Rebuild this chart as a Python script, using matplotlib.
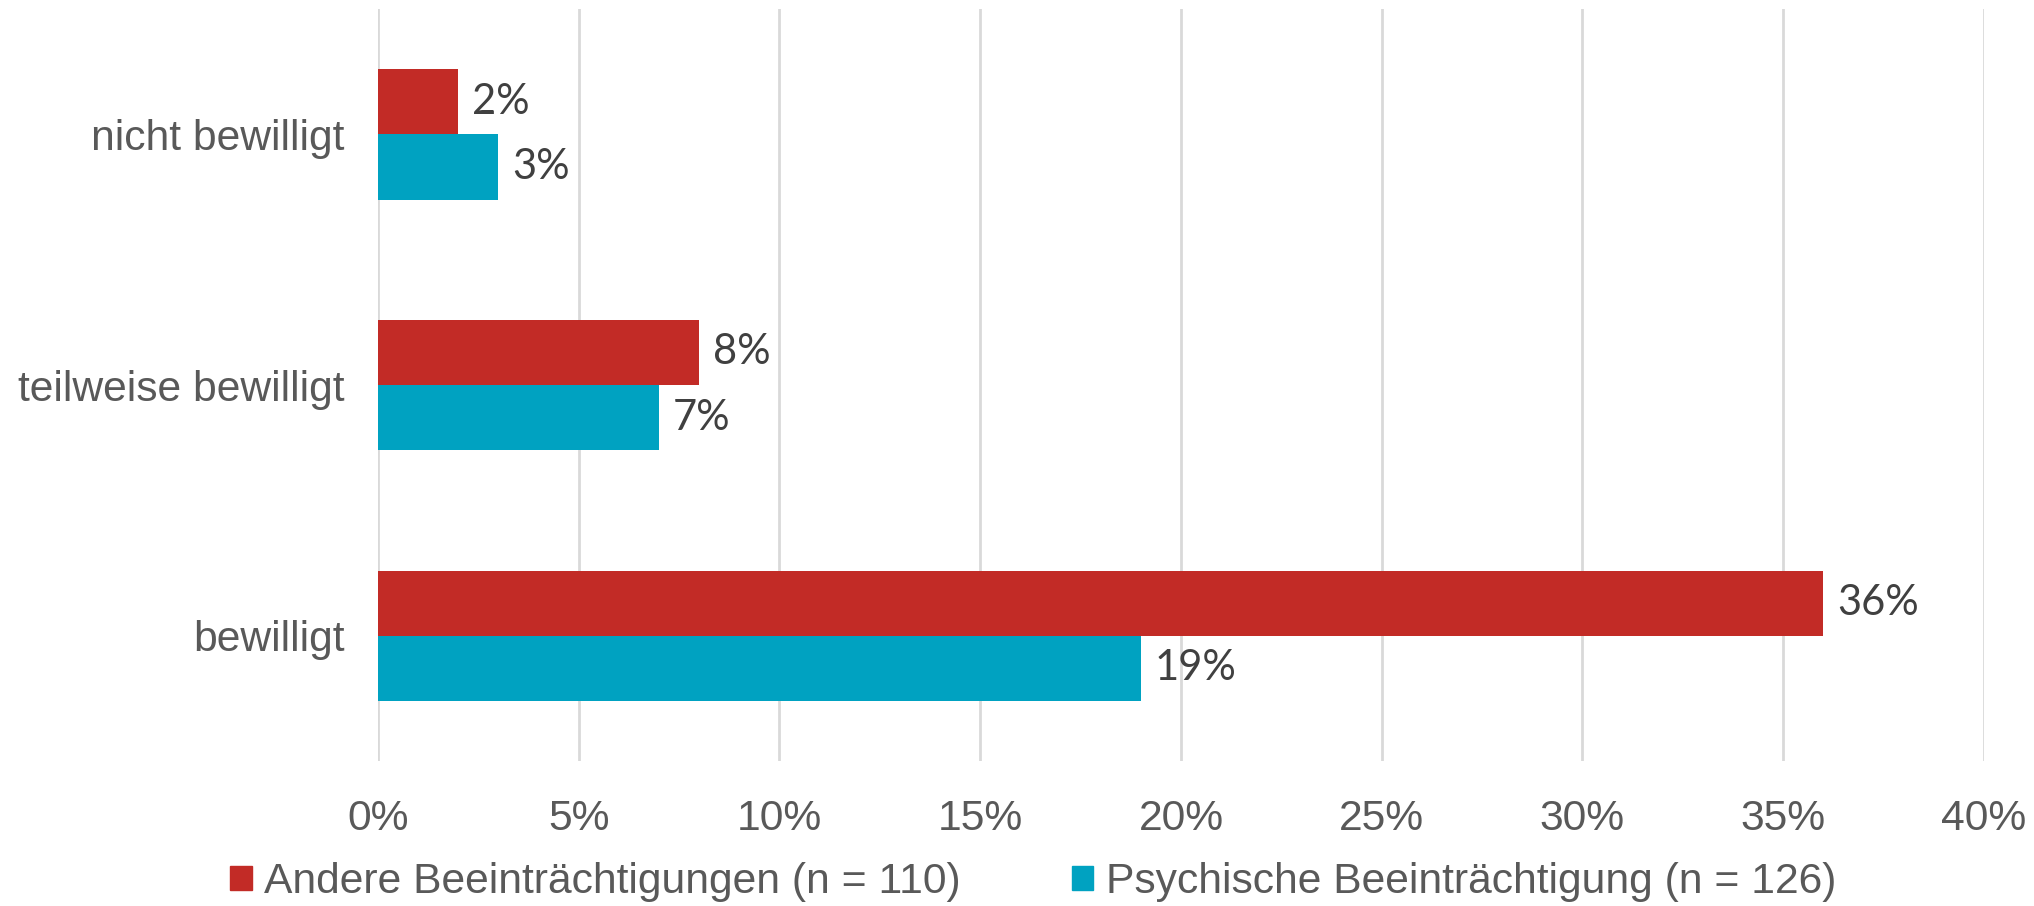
import matplotlib
matplotlib.use("Agg")
import matplotlib.pyplot as plt
import numpy as np
from matplotlib.patches import Patch

# Daten
kategorien = ["bewilligt", "teilweise bewilligt", "nicht bewilligt"]
andere = [36, 8, 2]
psychisch = [19, 7, 3]
serien = ["Andere Beeinträchtigungen (n = 110)", "Psychische Beeinträchtigung (n = 126)"]
xticks = [0, 5, 10, 15, 20, 25, 30, 35, 40]

rot = "#C22B26"
blau = "#00A2C1"
grau = "#595959"

plt.rcParams['font.family'] = ['Liberation Sans', 'DejaVu Sans']

fig = plt.figure(figsize=(20.34, 9.06), dpi=100)
ax = fig.add_axes([0.1858, 0.160, 0.7896, 0.830])

y = np.arange(len(kategorien))
h = 0.26
ax.barh(y + h / 2, andere, height=h, color=rot, zorder=3)
ax.barh(y - h / 2, psychisch, height=h, color=blau, zorder=3)

# Datenbeschriftungen
for yi, v in zip(y, andere):
    ax.text(v + 0.35, yi + h / 2, f"{v}%", va="center", ha="left",
            fontsize=30, color="#404040", family="Lato")
for yi, v in zip(y, psychisch):
    ax.text(v + 0.35, yi - h / 2, f"{v}%", va="center", ha="left",
            fontsize=30, color="#404040", family="Lato")

ax.set_xlim(0, 40)
ax.set_ylim(-0.5, 2.5)
ax.set_xticks(xticks)
ax.set_xticklabels([f"{t}%" for t in xticks])
ax.set_yticks(y)
ax.set_yticklabels(kategorien)
ax.tick_params(axis="x", length=0, pad=27, labelsize=30.7, labelcolor=grau)
ax.tick_params(axis="y", length=0, pad=24, labelsize=30.7, labelcolor=grau)
ax.grid(axis="x", color="#D9D9D9", linewidth=2, zorder=0)
for s in ax.spines.values():
    s.set_visible(False)

handles = [Patch(color=rot, label=serien[0]), Patch(color=blau, label=serien[1])]
fig.legend(handles=handles, loc="center", bbox_to_anchor=(0.508, 0.0265), ncol=2,
           frameon=False, fontsize=30.7, labelcolor=grau, handlelength=0.5,
           handleheight=0.5, handletextpad=0.3, columnspacing=2.6)

fig.savefig("out.png", dpi=100)
